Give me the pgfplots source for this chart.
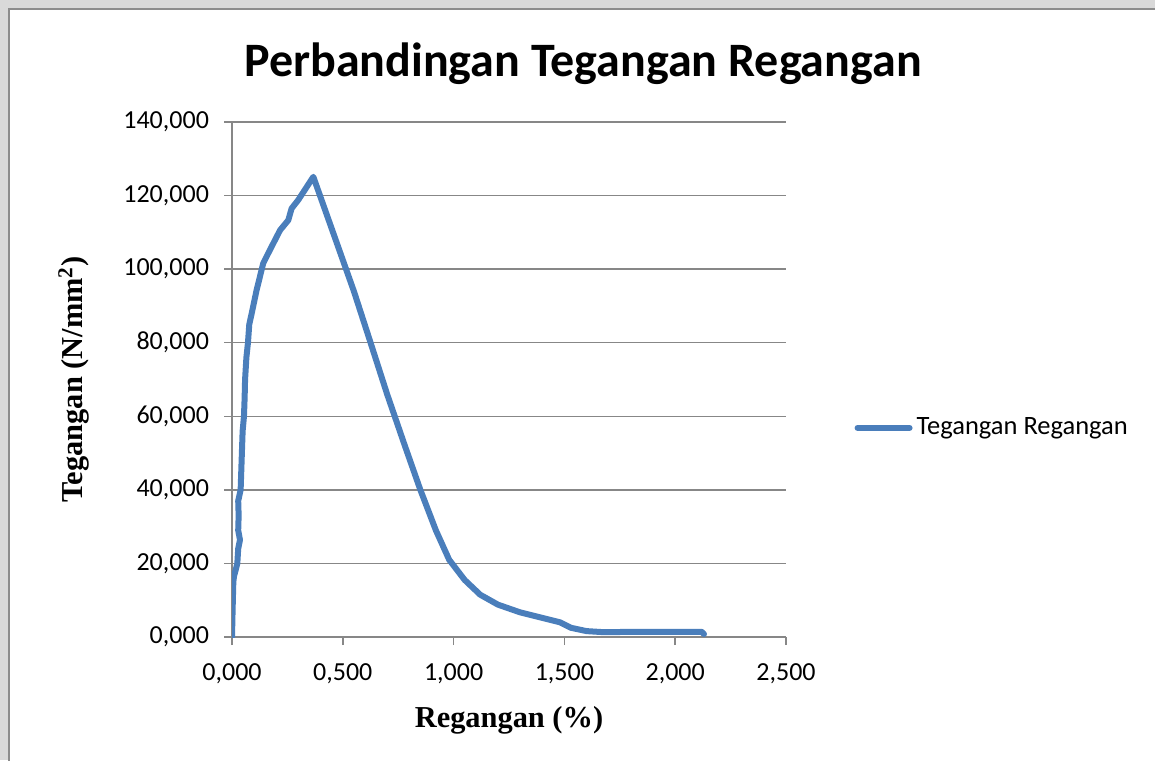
\documentclass[border=0pt]{standalone}
\usepackage{fontspec}
\setmainfont{Carlito}
\newfontfamily\timesbf{Liberation Serif}
\usepackage{pgfplots}
\pgfplotsset{compat=1.18}
\definecolor{xlblue}{HTML}{4A7EBB}
\definecolor{xlgrid}{HTML}{878787}
\definecolor{bggray}{HTML}{D9D9D9}
\begin{document}
\begin{tikzpicture}
% page, 1 px of the reference = 0.5pt
\clip (0,0) rectangle (577.5pt,380pt);
\fill[bggray] (0,0) rectangle (577.5pt,380pt);
\filldraw[fill=white,draw=gray!90,line width=0.7pt] (4.5pt,-5pt) rectangle (590pt,375.5pt);
\node[font=\fontsize{24}{28}\selectfont\bfseries] at (291.5pt,348pt) {Perbandingan Tegangan Regangan};
\begin{axis}[
  at={(116pt,61.5pt)}, anchor=south west,
  scale only axis,
  width=277pt, height=257.5pt,
  xmin=0, xmax=2.5, ymin=0, ymax=140,
  xtick={0,0.5,1,1.5,2,2.5},
  ytick={0,20,40,60,80,100,120,140},
  axis lines*=left,
  axis line style={xlgrid, line width=0.75pt},
  ymajorgrids,
  grid style={xlgrid, line width=0.75pt},
  tick align=outside,
  major tick length=4pt,
  tick style={xlgrid, line width=0.75pt},
  tick label style={font=\fontsize{13}{15}\selectfont},
  xticklabel={\pgfmathprintnumber[assume math mode=true,fixed,fixed zerofill,precision=3,use comma,1000 sep={}]{\tick}},
  yticklabel={\pgfmathprintnumber[assume math mode=true,fixed,fixed zerofill,precision=3,use comma,1000 sep={}]{\tick}},
  xticklabel style={yshift=-6pt},
  yticklabel style={xshift=-4pt},
  xlabel={\timesbf\bfseries Regangan (\%)},
  ylabel={\timesbf\bfseries Tegangan (N/mm\textsuperscript{2})},
  label style={font=\fontsize{15.2}{18}\selectfont},
  xlabel style={yshift=-4pt},
  ylabel style={yshift=10pt},
  legend style={at={(1.374,0.406)}, anchor=center, draw=none, fill=none,
    font=\fontsize{13.25}{16}\selectfont},
  legend image code/.code={\draw[#1, line cap=round] (0pt,0pt) -- (26pt,0pt);},
]
\addplot[xlblue, line width=3pt, line cap=round, line join=round] coordinates {
(0,0) (0.003,8) (0.006,15) (0.009,16.5) (0.02,19) (0.024,20) (0.028,24)
(0.036,26.4) (0.028,29) (0.030,33) (0.028,37) (0.039,40) (0.044,49)
(0.048,56) (0.054,60) (0.057,65) (0.059,70) (0.065,76) (0.072,80)
(0.078,85) (0.089,88) (0.111,94.3) (0.141,101.6) (0.171,105.2)
(0.217,110.6) (0.254,113.3) (0.269,116.5) (0.299,118.8) (0.367,125.1)
(0.45,111) (0.55,94) (0.62,81) (0.7,66) (0.78,52) (0.85,40) (0.92,29)
(0.98,21) (1.05,15.5) (1.12,11.5) (1.2,8.8) (1.3,6.7) (1.4,5.2)
(1.48,4.0) (1.53,2.5) (1.6,1.6) (1.68,1.3) (1.8,1.4) (2.0,1.4)
(2.12,1.4) (2.13,0.8)
};
\legend{Tegangan Regangan}
\end{axis}
\end{tikzpicture}
\end{document}
